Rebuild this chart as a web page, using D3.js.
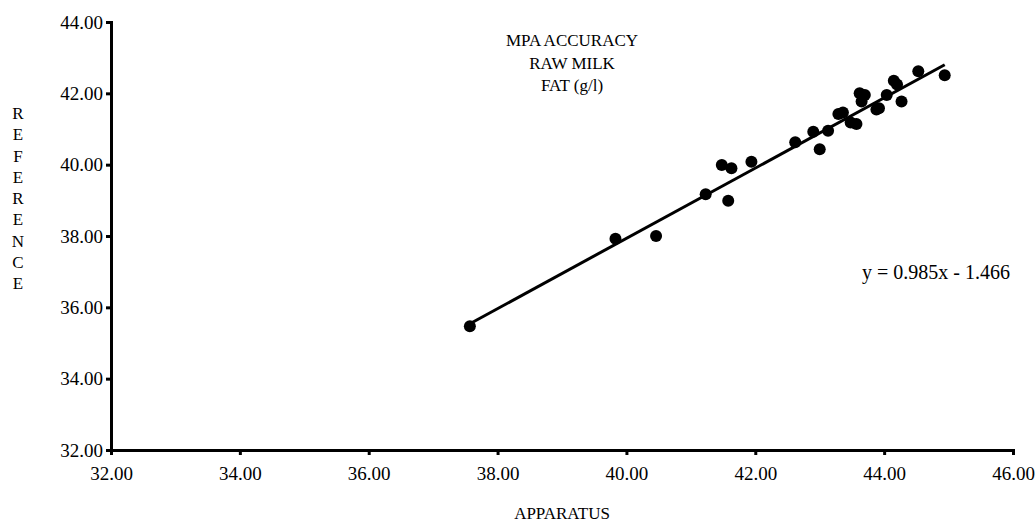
<!DOCTYPE html>
<html>
<head>
<meta charset="utf-8">
<script src="https://cdn.jsdelivr.net/npm/d3@7"></script>
<style>
  html, body { margin: 0; padding: 0; background: #fff; }
  svg { display: block; }
  text { font-family: "Liberation Serif", "Times New Roman", serif; fill: #000; }
</style>
</head>
<body>
<svg id="chart" width="1036" height="524"></svg>
<script>
// ---- data ----
const apparatus = [37.57, 39.83, 40.46, 41.23, 41.48, 41.63, 41.58, 41.94, 42.62, 42.90, 43.00, 43.13,
  43.29, 43.36, 43.48, 43.57, 43.62, 43.70, 43.65, 43.88, 43.92, 44.04, 44.15, 44.20, 44.27, 44.53, 44.94];
const reference = [35.47, 37.92, 38.00, 39.17, 39.99, 39.90, 38.99, 40.08, 40.63, 40.92, 40.43, 40.95,
  41.42, 41.46, 41.18, 41.14, 42.00, 41.95, 41.77, 41.55, 41.58, 41.95, 42.35, 42.25, 41.77, 42.62, 42.51];
const xTicks = [32, 34, 36, 38, 40, 42, 44, 46];
const yTicks = [32, 34, 36, 38, 40, 42, 44];
const slope = 0.985, intercept = -1.466;
const titleLines = ["MPA ACCURACY", "RAW MILK", "FAT (g/l)"];
const yTitle = "REFERENCE";
const xTitle = "APPARATUS";
const equation = "y = 0.985x - 1.466";

// ---- layout ----
const svg = d3.select("#chart");
const x = d3.scaleLinear().domain([32, 46]).range([111, 1013]);
const y = d3.scaleLinear().domain([32, 44]).range([450, 22]);
const fmt = d3.format(".2f");

// axes
const xAxis = svg.append("g").attr("transform", `translate(0,${y(32)})`)
  .call(d3.axisBottom(x).tickValues(xTicks).tickFormat(fmt).tickSizeOuter(0).tickSize(5).tickPadding(12));
const yAxis = svg.append("g").attr("transform", `translate(${x(32)},0)`)
  .call(d3.axisLeft(y).tickValues(yTicks).tickFormat(fmt).tickSizeOuter(0).tickSize(5).tickPadding(3));
[xAxis, yAxis].forEach(g => {
  g.attr("font-size", 19).attr("font-family", "Liberation Serif, serif");
  g.select(".domain").attr("stroke", "#000").attr("stroke-width", 3);
  g.selectAll(".tick line").attr("stroke", "#000").attr("stroke-width", 3);
  g.selectAll(".tick text").attr("font-size", 19).attr("font-family", "Liberation Serif, serif").attr("fill", "#000");
});

// regression line
const xmin = d3.min(apparatus), xmax = d3.max(apparatus);
svg.append("line")
  .attr("x1", x(xmin)).attr("y1", y(slope * xmin + intercept))
  .attr("x2", x(xmax)).attr("y2", y(slope * xmax + intercept))
  .attr("stroke", "#000").attr("stroke-width", 3);

// points
svg.append("g").selectAll("circle")
  .data(apparatus.map((a, i) => [a, reference[i]]))
  .join("circle")
  .attr("cx", d => x(d[0])).attr("cy", d => y(d[1]))
  .attr("r", 6).attr("fill", "#000");

// title
svg.append("text").attr("x", 572).attr("y", 46).attr("text-anchor", "middle").attr("font-size", 17)
  .selectAll("tspan").data(titleLines).join("tspan")
  .attr("x", 572).attr("dy", (d, i) => i === 0 ? 0 : 22.5).text(d => d);

// y title stacked letters
svg.append("text").attr("x", 18).attr("y", 119).attr("text-anchor", "middle").attr("font-size", 17)
  .selectAll("tspan").data(yTitle.split("")).join("tspan")
  .attr("x", 18).attr("dy", (d, i) => i === 0 ? 0 : 21.25).text(d => d);

// x title
svg.append("text").attr("x", 562).attr("y", 519).attr("text-anchor", "middle").attr("font-size", 17).text(xTitle);

// equation
svg.append("text").attr("x", 862).attr("y", 279).attr("font-size", 20).text(equation);
</script>
</body>
</html>
